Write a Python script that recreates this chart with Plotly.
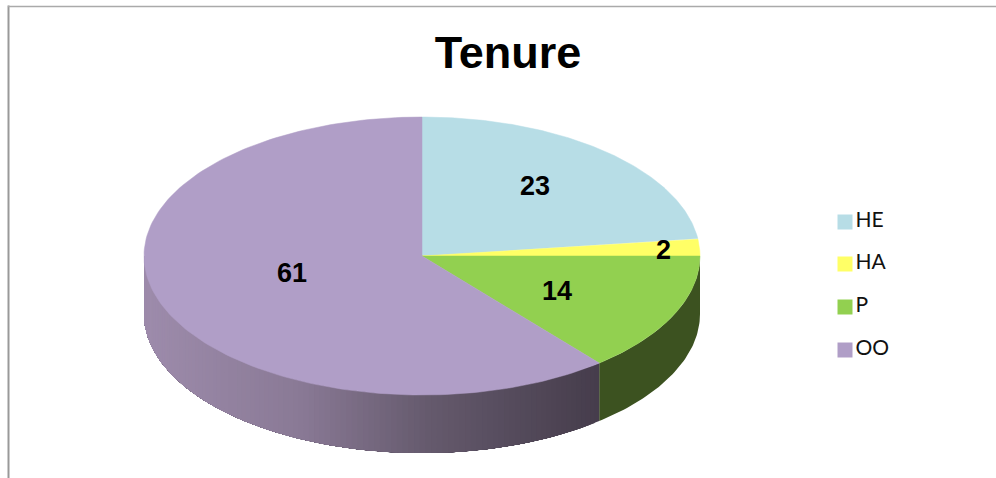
import numpy as np
import plotly.graph_objects as go

title = "Tenure"
categories = ["HE", "HA", "P", "OO"]
values = [23, 2, 14, 61]

top_colors = ["#B7DDE6", "#FFFF66", "#92D050", "#B09EC7"]
GREEN_SIDE = "#3C5220"
CX, CY, RX, RY, DEPTH = 422, 256, 278, 139, 58
label_pos = [(535, 186), (663, 250), (557, 291), (292, 273)]
legend_rows = [222, 264, 307, 350]
LEGEND_X = 845
grad_x = [144, 300, 430, 599]
grad_rgb = np.array([[158, 140, 172], [138, 122, 150], [101, 90, 109], [70, 61, 76]], float)

fracs = np.cumsum([0] + values) / sum(values) * 2 * np.pi


def px(t):
    return CX + RX * np.sin(t)


def py(t):
    return CY - RY * np.cos(t)


fig = go.Figure()


def side(t0, t1, color):
    ts = np.linspace(t0, t1, max(6, int((t1 - t0) * 60)))
    xs = list(px(ts)) + list(px(ts[::-1]))
    ys = list(py(ts)) + list(py(ts[::-1]) + DEPTH)
    fig.add_trace(go.Scatter(x=xs, y=ys, mode="lines", fill="toself", fillcolor=color,
                             line=dict(width=0), hoverinfo="skip", showlegend=False))


# Visible wall: right half of the rim only (90 to 270 degrees)
for i in range(4):
    a, b = max(fracs[i], np.pi / 2), min(fracs[i + 1], 1.5 * np.pi)
    if b <= a:
        continue
    if categories[i] == "P":
        side(a, b, GREEN_SIDE)
    elif categories[i] == "OO":
        # Each band reaches the far edge of the wall and the next covers it: no seams
        edges = np.linspace(a, b, 111)
        for t0, t1 in zip(edges[:-1], edges[1:]):
            xm = px((t0 + t1) / 2)
            rgb = [np.interp(xm, grad_x, grad_rgb[:, k]) for k in range(3)]
            side(t0, b, "rgb(%d,%d,%d)" % tuple(rgb))

# Top face
for i, cat in enumerate(categories):
    ts = np.linspace(fracs[i], fracs[i + 1], 160)
    xs = [CX] + list(px(ts)) + [CX]
    ys = [CY] + list(py(ts)) + [CY]
    fig.add_trace(go.Scatter(x=xs, y=ys, mode="lines", fill="toself", fillcolor=top_colors[i],
                             line=dict(color=top_colors[i], width=0.5), hoverinfo="skip", showlegend=False))

# Legend swatches and names
fig.add_trace(go.Scatter(x=[LEGEND_X] * len(categories), y=legend_rows, mode="markers+text",
                         text=categories, textposition="middle right",
                         textfont=dict(family="Lato", size=21, color="#111111"),
                         marker=dict(symbol="square", size=15, color=top_colors),
                         hoverinfo="skip", showlegend=False))

annotations = [dict(x=p[0], y=p[1], text="<b>%s</b>" % v, showarrow=False, xanchor="center", yanchor="middle",
                    font=dict(family="Liberation Sans", size=27, color="#000000"))
               for p, v in zip(label_pos, values)]

fig.update_layout(
    width=996, height=478, margin=dict(l=0, r=0, t=0, b=0),
    paper_bgcolor="white", plot_bgcolor="white", showlegend=False,
    title=dict(text="<b>%s</b>" % title, x=508 / 996, xanchor="center", xref="paper",
               y=1 - 52 / 478, yanchor="middle", yref="paper",
               font=dict(family="Liberation Sans", size=45, color="#000000")),
    xaxis=dict(range=[0, 996], visible=False, fixedrange=True),
    yaxis=dict(range=[478, 0], visible=False, fixedrange=True),
    annotations=annotations,
    shapes=[
        dict(type="line", x0=8.5, x1=8.5, y0=5.5, y1=478, line=dict(color="#999999", width=2)),
        dict(type="line", x0=8, x1=996, y0=6.5, y1=6.5, line=dict(color="#AAAAAA", width=1.5)),
    ],
)
fig.write_html("out.html", config=dict(displayModeBar=False),
               post_script="document.body.style.margin='0';document.documentElement.style.overflow='hidden';")
